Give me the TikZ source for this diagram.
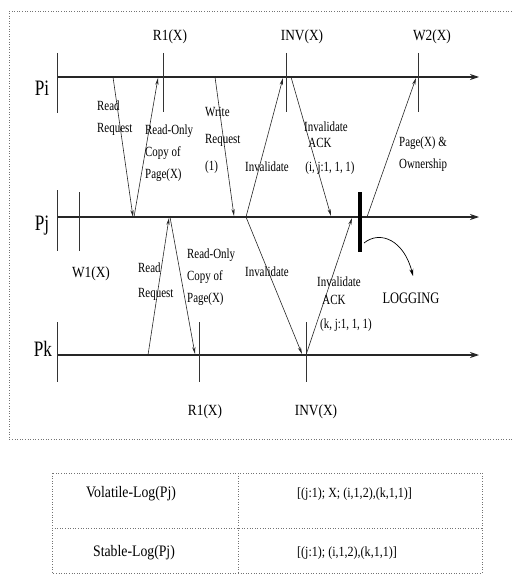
\documentclass[tikz,border=0pt]{standalone}
\usepackage{fontspec}
\setmainfont{Liberation Serif}
\newfontfamily\cnd[FakeStretch=0.78]{Liberation Serif}
\newfontfamily\cndb[FakeStretch=0.86]{Liberation Serif}
\usetikzlibrary{arrows.meta}
\tikzset{
  proc/.style={line width=1.1pt, draw=black!85, -{Stealth[length=9pt,width=6pt]}},
  tick/.style={line width=0.7pt, draw=black!80},
  msg/.style={line width=0.6pt, draw=black!85, -{Stealth[length=7pt,width=3.2pt]}},
  lbl/.style={inner sep=0pt, font=\cnd\fontsize{14}{22}\selectfont, align=left, anchor=west},
  clbl/.style={inner sep=0pt, font=\cnd\fontsize{14}{22}\selectfont},
  evt/.style={inner sep=0pt, font=\cndb\fontsize{15.5}{17}\selectfont},
  pname/.style={inner sep=0pt, font=\cnd\fontsize{22}{24}\selectfont},
  frame/.style={draw=black!55, line width=0.6pt, dotted},
  cell/.style={inner sep=0pt, font=\cndb\fontsize{16}{18}\selectfont}
}
\begin{document}
\begin{tikzpicture}[x=1pt,y=-1pt]
\useasboundingbox (0,0) rectangle (512,575);
% outer frame
\coordinate (f1) at (514,11);
\coordinate (f2) at (9,11);
\coordinate (f3) at (9,439);
\coordinate (f4) at (514,439);
\draw[frame] (f1) -- (f2) -- (f3) -- (f4);

% process lines
\coordinate (pi0) at (57,77);  \coordinate (piE) at (479,77);
\coordinate (pj0) at (57,217); \coordinate (pjE) at (479,217);
\coordinate (pk0) at (57,355); \coordinate (pkE) at (479,355);
\draw[proc] (pi0) -- (piE);
\draw[proc] (pj0) -- (pjE);
\draw[proc] (pk0) -- (pkE);

\node[pname] (Pi) at (42,88) {Pi};
\node[pname] (Pj) at (42,226) {Pj};
\node[pname] (Pk) at (43,349) {Pk};

% ticks
\coordinate (ti1) at (57,53);  \coordinate (ti2) at (57,113);
\coordinate (tj1) at (57,190); \coordinate (tj2) at (57,251);
\coordinate (tk1) at (57,322); \coordinate (tk2) at (57,382);
\draw[tick] (ti1) -- (ti2);
\draw[tick] (tj1) -- (tj2);
\draw[tick] (tk1) -- (tk2);

\coordinate (r1a) at (163,53);  \coordinate (r1b) at (163,112);
\coordinate (inva) at (286,53); \coordinate (invb) at (286,112);
\coordinate (w2a) at (418,53);  \coordinate (w2b) at (418,112);
\coordinate (w1a) at (79,192);  \coordinate (w1b) at (79,251);
\coordinate (rka) at (199,322); \coordinate (rkb) at (199,382);
\coordinate (ika) at (306,322); \coordinate (ikb) at (306,382);
\draw[tick] (r1a) -- (r1b);
\draw[tick] (inva) -- (invb);
\draw[tick] (w2a) -- (w2b);
\draw[tick] (w1a) -- (w1b);
\draw[tick] (rka) -- (rkb);
\draw[tick] (ika) -- (ikb);

\node[evt] (lR1i) at (170,37) {R1(X)};
\node[evt] (lINVi) at (302,37) {INV(X)};
\node[evt] (lW2) at (432,37) {W2(X)};
\node[evt] (lW1) at (91,274) {W1(X)};
\node[evt] (lR1k) at (205,412) {R1(X)};
\node[evt] (lINVk) at (316,412) {INV(X)};

% logging bar
\coordinate (lg1) at (360,192);
\coordinate (lg2) at (360,252);
\draw[line width=3.5pt, black] (lg1) -- (lg2);
\coordinate (lgs) at (364,243);
\coordinate (lge) at (413,276);
\draw[line width=0.7pt, -{Stealth[length=7pt,width=4pt]}] (lgs) .. controls (380,230) and (404,240) .. (lge);
\node[inner sep=0pt, font=\cnd\fontsize{16}{18}\selectfont] (LOG) at (411,298) {LOGGING};

% message endpoints
\coordinate (a1) at (113,77);  \coordinate (b1) at (133,217);
\coordinate (a2) at (134,217); \coordinate (b2) at (158,78);
\coordinate (a3) at (215,77);  \coordinate (b3) at (234,216);
\coordinate (a4) at (246,217); \coordinate (b4) at (283,78);
\coordinate (a5) at (291,77);  \coordinate (b5) at (331,216);
\coordinate (a6) at (367,217); \coordinate (b6) at (416,78);
\coordinate (a7) at (246,217); \coordinate (b7) at (302,354);
\coordinate (a8) at (306,355); \coordinate (b8) at (352,218);
\coordinate (a9) at (148,355); \coordinate (b9) at (169,218);
\coordinate (a10) at (170,217); \coordinate (b10) at (195,354);
\draw[msg] (a1) -- (b1);
\draw[msg] (a2) -- (b2);
\draw[msg] (a3) -- (b3);
\draw[msg] (a4) -- (b4);
\draw[msg] (a5) -- (b5);
\draw[msg] (a6) -- (b6);
\draw[msg] (a7) -- (b7);
\draw[msg] (a8) -- (b8);
\draw[msg] (a9) -- (b9);
\draw[msg] (a10) -- (b10);

% message labels
\node[lbl] (t1) at (97,118) {Read\\Request};
\node[lbl] (t2) at (145,153) {Read-Only\\Copy of\\Page(X)};
\node[lbl, font=\cnd\fontsize{14}{27}\selectfont] (t3) at (205,140) {Write\\Request\\(1)};
\node[clbl] (t4) at (267,167) {Invalidate};
\node[clbl] (t5a) at (326,127) {Invalidate};
\node[clbl] (t5b) at (320,143) {ACK};
\node[clbl] (t5c) at (330,168) {(i, j:1, 1, 1)};
\node[lbl] (t6) at (399,154) {Page(X) \&\\Ownership};
\node[clbl] (t7) at (267,272) {Invalidate};
\node[clbl] (t8a) at (339,282) {Invalidate};
\node[clbl] (t8b) at (334,300) {ACK};
\node[clbl] (t8c) at (346,325) {(k, j:1, 1, 1)};
\node[lbl, font=\cnd\fontsize{14}{25}\selectfont] (t9) at (138,282) {Read\\Request};
\node[lbl] (t10) at (187,277) {Read-Only\\Copy of\\Page(X)};

% table
\coordinate (T1) at (52,473); \coordinate (T2) at (482,573);
\coordinate (H1) at (52,528); \coordinate (H2) at (482,528);
\coordinate (V1) at (238,473); \coordinate (V2) at (238,573);
\draw[frame] (T1) rectangle (T2);
\draw[frame] (H1) -- (H2);
\draw[frame] (V1) -- (V2);
\node[cell] (c11) at (131,494) {Volatile-Log(Pj)};
\node[cell, anchor=west, font=\cndb\fontsize{14}{16}\selectfont] (c12) at (297,494) {[(j:1); X; (i,1,2),(k,1,1)]};
\node[cell] (c21) at (134,553) {Stable-Log(Pj)};
\node[cell, anchor=west, font=\cndb\fontsize{14}{16}\selectfont] (c22) at (297,553) {[(j:1); (i,1,2),(k,1,1)]};
\end{tikzpicture}
\end{document}
